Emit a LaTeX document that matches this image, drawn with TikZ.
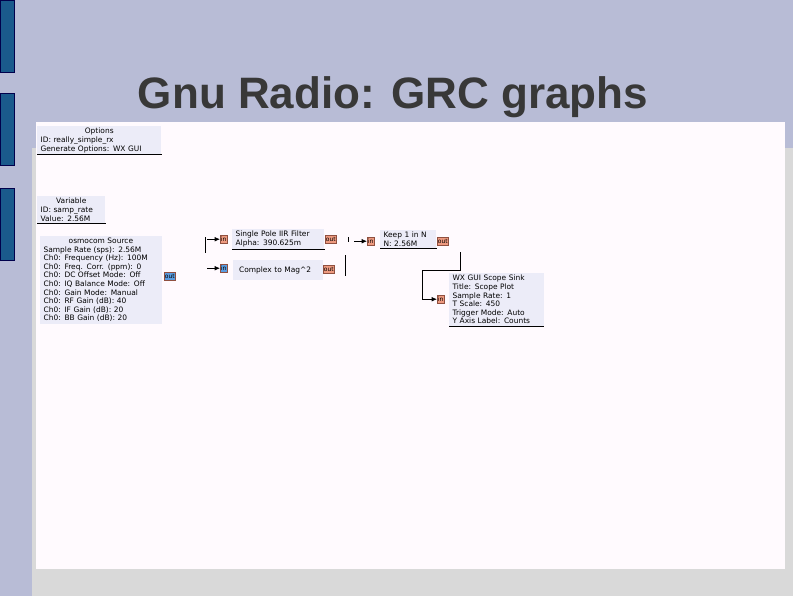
\documentclass[tikz,border=0pt]{standalone}
\usepackage{fontspec}
\usetikzlibrary{arrows.meta}
\setmainfont{DejaVu Sans}
\newfontfamily\titlefont{Liberation Sans}
\begin{document}
\begin{tikzpicture}[x=0.75pt,y=-0.75pt,
 blk/.style={fill=boxc,anchor=north west,inner xsep=2.5pt,inner ysep=1.5pt,align=left,font=\fontsize{5.6}{6.4}\selectfont,text=black},
 port/.style={draw=portd,line width=0.3pt,anchor=north west,font=\fontsize{4.5}{5}\selectfont,inner sep=0.5pt,text height=4pt,text depth=1pt},
 op/.style={port,fill=orng},
 bp/.style={port,fill=bluep},
 wire/.style={line width=0.6pt,-{Latex[length=4pt,width=3.5pt]}},
 lin/.style={line width=0.6pt}]
\definecolor{bg}{HTML}{B8BCD6}
\definecolor{boxc}{HTML}{ECECF8}
\definecolor{paper}{HTML}{FFFAFE}
\definecolor{orng}{HTML}{EE9A80}
\definecolor{bluep}{HTML}{5A9CE0}
\definecolor{portd}{HTML}{905040}
\definecolor{barc}{HTML}{1A5A8C}
\useasboundingbox (0,0) rectangle (793,596);
\fill[bg] (0,0) rectangle (793,596);
\fill[black!15] (32,148) rectangle (793,596);
\fill[paper] (36,122) rectangle (785,569);
\foreach \a/\b in {0/72,93/165,188/260}
 \draw[fill=barc,draw=black!70!blue,line width=0.4pt] (0,\a) rectangle (14,\b);
\node[font=\titlefont\bfseries\fontsize{33}{36}\selectfont,text=black!78] (title) at (393,97) {Gnu Radio: GRC graphs};
% blocks
\node[blk,text width=88pt] (opt) at (37,126) {\makebox[\linewidth]{Options}\\ID: really\_simple\_rx\\Generate Options: WX GUI};
\draw[lin] (opt.south west) -- (opt.south east);
\node[blk,text width=46pt] (var) at (37,196) {\makebox[\linewidth]{Variable}\\ID: samp\_rate\\Value: 2.56M};
\draw[lin] (var.south west) -- (var.south east);
\node[blk,text width=86pt] (src) at (40,236) {\makebox[\linewidth]{osmocom Source}\\Sample Rate (sps): 2.56M\\Ch0: Frequency (Hz): 100M\\Ch0: Freq. Corr. (ppm): 0\\Ch0: DC Offset Mode: Off\\Ch0: IQ Balance Mode: Off\\Ch0: Gain Mode: Manual\\Ch0: RF Gain (dB): 40\\Ch0: IF Gain (dB): 20\\Ch0: BB Gain (dB): 20};
\node[bp] (srcout) at (164,272) {out};
\node[blk,text width=64pt] (iir) at (232,229) {Single Pole IIR Filter\\Alpha: 390.625m};
\draw[lin] (iir.south west) -- (iir.south east);
\node[op] (iirin) at (220,235) {in};
\node[op] (iirout) at (325,235) {out};
\node[blk,text width=62pt,minimum height=15pt,anchor=north west] (mag) at (233,260) {\ Complex to Mag\^{}2};
\node[bp] (magin) at (220,264) {in};
\node[op] (magout) at (323,265) {out};
\node[blk,text width=37pt] (keep) at (380,230) {Keep 1 in N\\N: 2.56M};
\draw[lin] (keep.south west) -- (keep.south east);
\node[op] (keepin) at (367,237) {in};
\node[op] (keepout) at (437,237) {out};
\node[blk,text width=66pt] (scope) at (449,273) {WX GUI Scope Sink\\Title: Scope Plot\\Sample Rate: 1\\T Scale: 450\\Trigger Mode: Auto\\Y Axis Label: Counts};
\draw[lin] (scope.south west) -- (scope.south east);
\node[op] (scopein) at (437,295) {in};
% connectors
\coordinate (a1) at (205,237); \coordinate (a2) at (205,253);
\draw[lin] (a1) -- (a2);
\coordinate (b1) at (345,255); \coordinate (b2) at (345,276);
\draw[lin] (b1) -- (b2);
\coordinate (c1) at (348,237); \coordinate (c2) at (348,242);
\draw[lin] (c1) -- (c2);
\draw[wire] (iirin.west) ++(-13,0) coordinate (d1) (d1) -- (iirin.west);
\draw[wire] (magin.west) ++(-13,0) coordinate (d2) (d2) -- (magin.west);
\draw[wire] (keepin.west) ++(-13,0) coordinate (d3) (d3) -- (keepin.west);
\coordinate (e1) at (460,252);
\draw[wire] (e1) -- (460,270) -- (422,270) |- (scopein.west);
\end{tikzpicture}
\end{document}
